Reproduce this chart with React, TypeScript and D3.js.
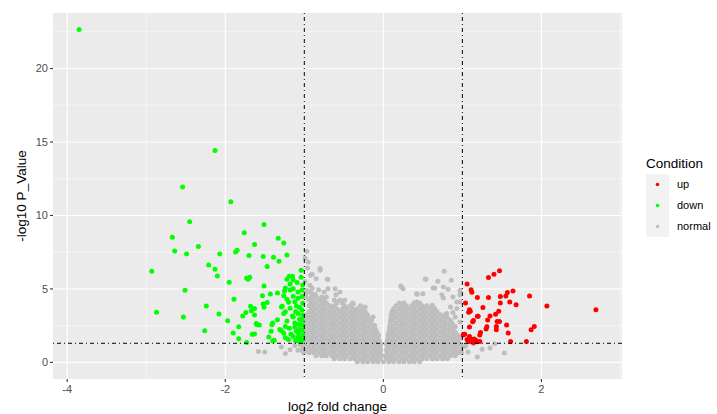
import * as d3 from 'd3';

// log2 fold change, -log10 p value
const downPoints: [number, number][] = [
  [-3.85, 22.65], [-2.13, 14.43], [-2.54, 11.93], [-1.93, 10.93], [-2.45, 9.57], [-1.51, 9.39],
  [-2.67, 8.52], [-1.76, 8.82], [-1.33, 8.45], [-1.26, 8.13], [-2.64, 7.59], [-2.34, 7.89],
  [-2.49, 7.38], [-2.07, 7.38], [-1.85, 7.63], [-1.87, 7.52], [-1.63, 8.02], [-1.7, 7.27],
  [-1.52, 7.2], [-1.39, 7.16], [-1.22, 7.31], [-1.32, 6.88], [-2.93, 6.2], [-2.21, 6.63],
  [-2.13, 6.34], [-2.1, 5.88], [-1.47, 6.52], [-1.04, 6.27], [-1.73, 5.73], [-1.69, 5.79],
  [-1.71, 5.66], [-1.95, 5.45], [-1.51, 5.2], [-2.51, 4.91], [-2.87, 3.41], [-2.53, 3.09],
  [-2.24, 3.84], [-2.08, 3.29], [-1.97, 2.84], [-2.26, 2.16], [-1.89, 4.29], [-1.9, 2.0],
  [-1.83, 1.61], [-1.73, 1.36], [-1.83, 2.42], [-1.78, 3.16], [-1.74, 3.39], [-1.68, 3.82],
  [-1.63, 3.66], [-1.67, 3.52], [-1.63, 3.22], [-1.66, 1.91], [-1.63, 1.93], [-1.61, 2.64],
  [-1.6, 2.57], [-1.57, 2.55], [-1.53, 4.54], [-1.51, 3.75], [-1.52, 3.98], [-1.47, 4.07],
  [-1.43, 4.66], [-1.45, 1.73], [-1.4, 1.45], [-1.4, 2.68], [-1.41, 2.57], [-1.42, 2.12],
  [-1.38, 1.5], [-1.34, 4.73], [-1.34, 2.91], [-1.28, 3.82], [-1.29, 3.77], [-1.31, 2.24],
  [-1.29, 2.15], [-1.26, 1.98], [-1.24, 1.68], [-1.26, 4.54], [-1.25, 4.86], [-1.24, 5.06],
  [-1.24, 3.45], [-1.26, 3.32], [-1.24, 2.45], [-1.22, 5.66], [-1.19, 5.86], [-1.15, 5.86],
  [-1.18, 5.34], [-1.18, 4.93], [-1.22, 4.29], [-1.2, 4.09], [-1.18, 3.68], [-1.15, 3.16],
  [-1.22, 2.82], [-1.19, 2.32], [-1.17, 1.93], [-1.2, 1.55], [-1.14, 5.61], [-1.14, 5.02],
  [-1.14, 4.5], [-1.12, 4.12], [-1.1, 3.84], [-1.11, 3.45], [-1.14, 3.09], [-1.12, 2.68],
  [-1.12, 2.41], [-1.1, 2.12], [-1.14, 1.77], [-1.11, 1.48], [-1.09, 5.43], [-1.08, 4.79],
  [-1.08, 4.36], [-1.06, 3.73], [-1.08, 3.32], [-1.06, 2.93], [-1.07, 2.59], [-1.06, 2.27],
  [-1.07, 1.98], [-1.06, 1.64], [-1.06, 1.41], [-1.04, 5.79], [-1.02, 5.27], [-1.03, 4.93],
  [-1.03, 4.48], [-1.02, 4.02], [-1.03, 3.57], [-1.02, 3.22], [-1.03, 2.89], [-1.02, 2.55],
  [-1.03, 2.2], [-1.02, 1.86], [-1.02, 1.52], [-1.08, 1.73],
];

const upPoints: [number, number][] = [
  [2.69, 3.59], [2.07, 3.84], [1.85, 4.52], [1.91, 2.45], [1.87, 2.23], [1.81, 1.43],
  [1.61, 1.43], [1.58, 2.0], [1.56, 2.54], [1.68, 3.93], [1.64, 4.86], [1.6, 4.11],
  [1.57, 4.75], [1.55, 4.52], [1.48, 4.48], [1.48, 4.04], [1.47, 6.23], [1.4, 6.0],
  [1.33, 5.77], [1.33, 4.41], [1.19, 4.41], [1.26, 3.73], [1.46, 3.48], [1.42, 3.27],
  [1.35, 3.16], [1.32, 2.89], [1.31, 2.43], [1.3, 2.27], [1.44, 2.79], [1.47, 2.79],
  [1.43, 2.45], [1.43, 2.23], [1.19, 3.14], [1.2, 3.14], [1.14, 2.86], [1.13, 2.77],
  [1.09, 3.59], [1.1, 3.48], [1.08, 3.41], [1.12, 4.77], [1.11, 4.95], [1.06, 5.34],
  [1.04, 4.04], [1.09, 2.41], [1.23, 2.04], [1.22, 1.86], [1.01, 1.86], [1.03, 1.91],
  [1.09, 1.77], [1.11, 1.59], [1.06, 1.55], [1.08, 1.41], [1.12, 1.45], [1.15, 1.59],
  [1.17, 1.5], [1.19, 1.41], [1.22, 1.43], [1.14, 1.36],
];

// the sparse grey points around the dense cloud
const normalScatter: [number, number][] = [
  [-0.97, 7.57], [-0.95, 6.84], [-0.96, 6.43], [-0.92, 5.93], [-0.8, 6.27], [-0.85, 5.7],
  [-0.71, 5.66], [-0.61, 5.02], [-0.55, 4.79], [-0.7, 5.02], [-0.93, 5.25], [-0.94, 4.8],
  [-0.75, 4.79], [-0.49, 4.23], [-0.38, 4.0], [-0.23, 3.77], [-0.13, 3.09], [-0.11, 2.52],
  [-0.8, 6.39], [-0.7, 5.64], [-0.99, 7.1], [-0.9, 6.0], [-0.6, 4.6], [-0.99, 5.5],
  [-0.98, 4.68], [-0.91, 4.7], [-0.86, 4.62], [-0.97, 4.9], [-0.9, 5.05], [-0.82, 4.95],
  [-1.58, 0.75], [-1.5, 0.7], [-1.29, 1.05], [-1.18, 0.86], [-1.08, 0.82], [-1.12, 1.15],
  [-1.24, 0.6], [-1.05, 1.2],
  [0.23, 5.13], [0.25, 5.02], [0.54, 5.66], [0.69, 5.52], [0.76, 5.13], [0.86, 5.59],
  [0.77, 6.2], [0.63, 5.07], [0.42, 4.68], [0.5, 4.68], [0.82, 4.98], [0.74, 4.61],
  [0.76, 4.38], [0.88, 4.45], [0.97, 4.61], [0.62, 3.89], [0.85, 3.77], [0.93, 3.66],
  [0.97, 4.11], [0.8, 3.32], [0.91, 3.09], [0.97, 2.75], [0.42, 4.11], [0.97, 4.9],
  [0.93, 4.11], [0.53, 5.68], [0.65, 5.07], [0.43, 4.64], [0.22, 5.2], [0.88, 3.4],
  [1.19, 0.36], [1.53, 0.64], [1.35, 0.98], [1.41, 1.27], [1.14, 1.27], [1.07, 0.7],
  [1.25, 0.9], [1.04, 1.1],
];

// the dense grey cloud, one row of log2 fold changes per -log10 p value
const normalRows: [number, number[]][] = [
  [0.05, [-0.33, -0.26, -0.2, -0.13, -0.07, 0, 0.07, 0.13, 0.2, 0.26, 0.33, 0.39, 0.46]],
  [0.25, [-0.62, -0.55, -0.49, -0.42, -0.36, -0.29, -0.23, -0.16, -0.1, -0.04,
    0.04, 0.1, 0.16, 0.23, 0.29, 0.36, 0.42, 0.49, 0.55, 0.62, 0.68, 0.75, 0.81]],
  [0.45, [-0.85, -0.78, -0.72, -0.65, -0.59, -0.52, -0.46, -0.39, -0.33, -0.26, -0.2, -0.13, -0.07, -0.02,
    0.03, 0.07, 0.13, 0.2, 0.26, 0.33, 0.39, 0.46, 0.52, 0.59, 0.65, 0.72, 0.78, 0.85, 0.91]],
  [0.65, [-1.01, -0.94, -0.88, -0.81, -0.75, -0.68, -0.62, -0.55, -0.49, -0.42, -0.36, -0.29, -0.23, -0.16, -0.1, -0.04,
    0.05, 0.1, 0.16, 0.23, 0.29, 0.36, 0.42, 0.49, 0.55, 0.62, 0.68, 0.75, 0.81, 0.88, 0.94, 0.99]],
  [0.85, [-1.04, -0.98, -0.91, -0.85, -0.78, -0.72, -0.65, -0.59, -0.52, -0.46, -0.39, -0.33, -0.26, -0.2, -0.13, -0.07, -0.03,
    0.04, 0.07, 0.13, 0.2, 0.26, 0.33, 0.39, 0.46, 0.52, 0.59, 0.65, 0.72, 0.78, 0.85, 0.91, 0.98]],
  [1.05, [-1.01, -0.94, -0.88, -0.81, -0.75, -0.68, -0.62, -0.55, -0.49, -0.42, -0.36, -0.29, -0.23, -0.16, -0.1, -0.04,
    0.05, 0.1, 0.16, 0.23, 0.29, 0.36, 0.42, 0.49, 0.55, 0.62, 0.68, 0.75, 0.81, 0.88, 0.94, 1.01]],
  [1.25, [-1.04, -0.98, -0.91, -0.85, -0.78, -0.72, -0.65, -0.59, -0.52, -0.46, -0.39, -0.33, -0.26, -0.2, -0.13, -0.07, -0.03,
    0.04, 0.07, 0.13, 0.2, 0.26, 0.33, 0.39, 0.46, 0.52, 0.59, 0.65, 0.72, 0.78, 0.85, 0.91, 0.98]],
  [1.45, [-1.01, -0.94, -0.88, -0.81, -0.75, -0.68, -0.62, -0.55, -0.49, -0.42, -0.36, -0.29, -0.23, -0.16, -0.1, -0.05,
    0.05, 0.1, 0.16, 0.23, 0.29, 0.36, 0.42, 0.49, 0.55, 0.62, 0.68, 0.75, 0.81, 0.88, 0.94]],
  [1.65, [-0.98, -0.91, -0.85, -0.78, -0.72, -0.65, -0.59, -0.52, -0.46, -0.39, -0.33, -0.26, -0.2, -0.13, -0.07,
    0.06, 0.13, 0.2, 0.26, 0.33, 0.39, 0.46, 0.52, 0.59, 0.65, 0.72, 0.78, 0.85, 0.91, 0.97]],
  [1.85, [-1.01, -0.94, -0.88, -0.81, -0.75, -0.68, -0.62, -0.55, -0.49, -0.42, -0.36, -0.29, -0.23, -0.16, -0.1, -0.06,
    0.06, 0.1, 0.16, 0.23, 0.29, 0.36, 0.42, 0.49, 0.55, 0.62, 0.68, 0.75, 0.81, 0.88, 0.94]],
  [2.05, [-0.98, -0.91, -0.85, -0.78, -0.72, -0.65, -0.59, -0.52, -0.46, -0.39, -0.33, -0.26, -0.2, -0.13, -0.08,
    0.07, 0.13, 0.2, 0.26, 0.33, 0.39, 0.46, 0.52, 0.59, 0.65, 0.72, 0.78, 0.85, 0.91]],
  [2.25, [-1.01, -0.94, -0.88, -0.81, -0.75, -0.68, -0.62, -0.55, -0.49, -0.42, -0.36, -0.29, -0.23, -0.16, -0.1,
    0.08, 0.12, 0.16, 0.23, 0.29, 0.36, 0.42, 0.49, 0.55, 0.62, 0.68, 0.75, 0.81, 0.88]],
  [2.45, [-0.98, -0.91, -0.85, -0.78, -0.72, -0.65, -0.59, -0.52, -0.46, -0.39, -0.33, -0.26, -0.2, -0.13,
    0.08, 0.13, 0.2, 0.26, 0.33, 0.39, 0.46, 0.52, 0.59, 0.65, 0.72, 0.78, 0.85, 0.91]],
  [2.65, [-1.01, -0.94, -0.88, -0.81, -0.75, -0.68, -0.62, -0.55, -0.49, -0.42, -0.36, -0.29, -0.23, -0.16,
    0.09, 0.16, 0.23, 0.29, 0.36, 0.42, 0.49, 0.55, 0.62, 0.68, 0.75, 0.81, 0.87]],
  [2.85, [-0.98, -0.91, -0.85, -0.78, -0.72, -0.65, -0.59, -0.52, -0.46, -0.39, -0.33, -0.26, -0.2, -0.15,
    0.09, 0.13, 0.2, 0.26, 0.33, 0.39, 0.46, 0.52, 0.59, 0.65, 0.72, 0.78, 0.85]],
  [3.05, [-1.01, -0.94, -0.88, -0.81, -0.75, -0.68, -0.62, -0.55, -0.49, -0.42, -0.36, -0.29, -0.23, -0.19,
    0.1, 0.16, 0.23, 0.29, 0.36, 0.42, 0.49, 0.55, 0.62, 0.68, 0.75, 0.81]],
  [3.25, [-0.98, -0.91, -0.85, -0.78, -0.72, -0.65, -0.59, -0.52, -0.46, -0.39, -0.33, -0.26, -0.2,
    0.1, 0.13, 0.2, 0.26, 0.33, 0.39, 0.46, 0.52, 0.59, 0.65, 0.72, 0.78]],
  [3.45, [-0.94, -0.88, -0.81, -0.75, -0.68, -0.62, -0.55, -0.49, -0.42, -0.36, -0.29, -0.23,
    0.11, 0.16, 0.23, 0.29, 0.36, 0.42, 0.49, 0.55, 0.62, 0.68]],
  [3.65, [-0.91, -0.85, -0.78, -0.72, -0.65, -0.59, -0.52, -0.46, -0.39, -0.33, -0.26,
    0.13, 0.2, 0.26, 0.33, 0.39, 0.46, 0.52, 0.59, 0.65]],
  [3.85, [-0.94, -0.88, -0.81, -0.75, -0.68, -0.62, -0.49, -0.42, -0.29,
    0.16, 0.23, 0.29, 0.36, 0.42, 0.49, 0.55]],
  [4.05, [-0.91, -0.85, -0.78, -0.72, -0.59, -0.52, -0.39, 0.2, 0.26, 0.39, 0.46]],
  [4.25, [-0.94, -0.88, -0.81, -0.75, -0.62, -0.55]],
  [4.45, [-0.98, -0.91, -0.85, -0.78, -0.72]],
];

const xTicks = [-4, -2, 0, 2];
const xMinor = [-3, -1, 1, 3];
const yTicks = [0, 5, 10, 15, 20];
const yMinor = [2.5, 7.5, 12.5, 17.5, 22.5];

const conditions = ['up', 'down', 'normal'];
const conditionColors = ['#FF0000', '#00FF00', '#BEBEBE'];

const fcCutoffs = [-1, 1];
const pCutoff = 1.30103;

const font = '"Liberation Sans", Arial, sans-serif';

export default function App() {
  const width = 717;
  const height = 414;
  const panel = { left: 53, top: 13, right: 622, bottom: 379 };

  const x = d3.scaleLinear().domain([-4.18, 3.02]).range([panel.left, panel.right]);
  const y = d3.scaleLinear().domain([-1.13, 23.78]).range([panel.bottom, panel.top]);
  const color = d3.scaleOrdinal<string, string>().domain(conditions).range(conditionColors);

  const normalPoints = normalScatter.concat(
    normalRows.flatMap(([py, xs]) => xs.map(px => [px, py] as [number, number]))
  );

  const layers: [string, [number, number][]][] = [
    ['normal', normalPoints],
    ['down', downPoints],
    ['up', upPoints],
  ];

  const legendX = 646;
  const legendTop = 174;
  const keySize = 21;

  return (
    <svg width={width} height={height} style={{ position: 'absolute', left: 0, top: 0 }} fontFamily={font}>
      <rect width={width} height={height} fill="#FFFFFF" />
      <rect x={panel.left} y={panel.top} width={panel.right - panel.left} height={panel.bottom - panel.top} fill="#EBEBEB" />

      {xMinor.map(t => (
        <line key={'xm' + t} x1={x(t)} x2={x(t)} y1={panel.top} y2={panel.bottom} stroke="#FFFFFF" strokeWidth={0.55} />
      ))}
      {yMinor.map(t => (
        <line key={'ym' + t} x1={panel.left} x2={panel.right} y1={y(t)} y2={y(t)} stroke="#FFFFFF" strokeWidth={0.55} />
      ))}
      {xTicks.map(t => (
        <line key={'xg' + t} x1={x(t)} x2={x(t)} y1={panel.top} y2={panel.bottom} stroke="#FFFFFF" strokeWidth={1.1} />
      ))}
      {yTicks.map(t => (
        <line key={'yg' + t} x1={panel.left} x2={panel.right} y1={y(t)} y2={y(t)} stroke="#FFFFFF" strokeWidth={1.1} />
      ))}

      <g clipPath="url(#panelClip)">
        {layers.map(([cond, pts]) => (
          <g key={cond} fill={color(cond)}>
            {pts.map((d, i) => (
              <circle key={i} cx={x(d[0])} cy={y(d[1])} r={2.5} />
            ))}
          </g>
        ))}
        {fcCutoffs.map(c => (
          <line key={'fc' + c} x1={x(c)} x2={x(c)} y1={panel.top} y2={panel.bottom}
            stroke="#000000" strokeWidth={1} strokeDasharray="1,3,4,3" />
        ))}
        <line x1={panel.left} x2={panel.right} y1={y(pCutoff)} y2={y(pCutoff)}
          stroke="#000000" strokeWidth={1} strokeDasharray="1,3,4,3" />
      </g>
      <defs>
        <clipPath id="panelClip">
          <rect x={panel.left} y={panel.top} width={panel.right - panel.left} height={panel.bottom - panel.top} />
        </clipPath>
      </defs>

      {xTicks.map(t => (
        <g key={'xt' + t}>
          <line x1={x(t)} x2={x(t)} y1={panel.bottom} y2={panel.bottom + 3} stroke="#333333" strokeWidth={1.1} />
          <text x={x(t)} y={panel.bottom + 14} textAnchor="middle" fontSize={11} fill="#4D4D4D">{t}</text>
        </g>
      ))}
      {yTicks.map(t => (
        <g key={'yt' + t}>
          <line x1={panel.left - 3} x2={panel.left} y1={y(t)} y2={y(t)} stroke="#333333" strokeWidth={1.1} />
          <text x={panel.left - 5} y={y(t)} dy="0.36em" textAnchor="end" fontSize={11} fill="#4D4D4D">{t}</text>
        </g>
      ))}

      <text x={(panel.left + panel.right) / 2} y={411} textAnchor="middle" fontSize={13.5} fill="#000000">log2 fold change</text>
      <text transform={`translate(26,${(panel.top + panel.bottom) / 2}) rotate(-90)`} textAnchor="middle" fontSize={13.5} fill="#000000">-log10 P_Value</text>

      <text x={legendX} y={168} fontSize={13.5} fill="#000000">Condition</text>
      {conditions.map((c, i) => (
        <g key={c}>
          <rect x={legendX} y={legendTop + i * keySize} width={23} height={keySize} fill="#F2F2F2" />
          <circle cx={legendX + 11.5} cy={legendTop + i * keySize + keySize / 2} r={1.8} fill={color(c)} />
          <text x={legendX + 31} y={legendTop + i * keySize + keySize / 2} dy="0.36em" fontSize={11} fill="#000000">{c}</text>
        </g>
      ))}
    </svg>
  );
}
